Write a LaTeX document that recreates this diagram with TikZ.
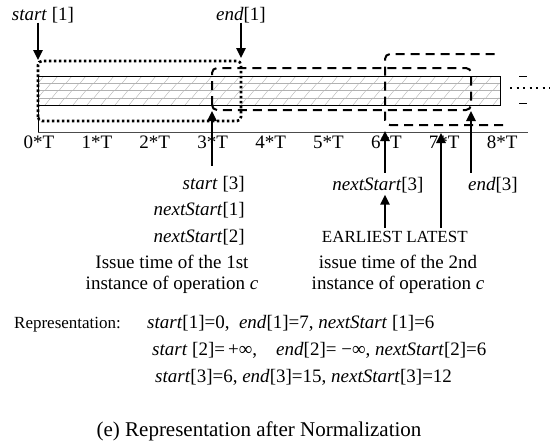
\documentclass[tikz,border=0pt]{standalone}
\usepackage{fontspec}
\setmainfont{Liberation Serif}
\usetikzlibrary{arrows.meta}
\begin{document}
\begin{tikzpicture}[x=1pt,y=-1pt,
 lbl/.style={font=\fontsize{19}{22}\selectfont,inner sep=0pt,anchor=base},
 lbltxt/.style={font=\fontsize{17}{20}\selectfont,inner sep=0pt,anchor=base},
 arr/.style={line width=2.4pt,-{Triangle[length=10pt,width=9pt]}},
 dotbox/.style={line width=2.6pt,dash pattern=on 2.6pt off 2.4pt,rounded corners=4pt},
 dashbox/.style={line width=2pt,dash pattern=on 9pt off 6pt,rounded corners=5pt}]
 \useasboundingbox (0,0) rectangle (550,447);
 % bar with brick hatch
 \begin{scope}
  \clip (38,76) rectangle (500,105);
  \foreach \r in {0,1,2,3}{
   \draw[gray!60] (38,{76+7.25*\r}) -- (500,{76+7.25*\r});
   \foreach \x in {0,14,...,470}{\draw[gray!60] ({38+\x+7*mod(\r,2)},{76+7.25*(\r+1)}) -- ++(6,-7.25);}
  }
 \end{scope}
 \draw[line width=0.9pt] (38,76) rectangle (500,105);
 \draw[line width=0.9pt] (38,76) -- (38,132);
 \draw[gray!60!black,line width=1pt] (38,132) -- (528,132);
 \foreach \k in {0,...,8}{\node[lbl] (t\k) at ({39+57.9*\k},148) {\k*T};}
 % instance boxes
 \draw[dotbox] (38,121) -- (38,61) -- (241,61) -- (241,121) -- cycle;
 \draw[dashbox] (212,110) -- (212,68) -- (471,68) -- (471,110) -- cycle;
 \draw[dashbox] (503,125) -- (385,125) -- (385,54) -- (500,54);
 % continuation marks
 \draw[line width=0.8pt] (519,76) -- (527,76) (519,103) -- (527,103);
 \draw[line width=2pt,dash pattern=on 2pt off 4.5pt] (510,88) -- (550,88);
 % top labels
 \coordinate (s1tip) at (38,60); \coordinate (e1tip) at (241,58);
 \node[lbl] (s1) at (43,20) {\textit{start} [1]};
 \node[lbl] (e1) at (241,20) {\textit{end}[1]};
 \draw[arr] (s1.south -| s1tip) -- (s1tip);
 \draw[arr] (e1.south -| e1tip) -- (e1tip);
 % bottom labels
 \coordinate (st3tip) at (212,111); \coordinate (ns3tip) at (385,131);
 \coordinate (latetip) at (441,133); \coordinate (e3tip) at (471,111);
 \node[lbl,anchor=base east] (st3) at (245,189) {\textit{start} [3]};
 \node[lbl,anchor=base east] (ns1) at (245,215) {\textit{nextStart}[1]};
 \node[lbl,anchor=base east] (ns2) at (245,242) {\textit{nextStart}[2]};
 \node[lbl] (ns3) at (378,190) {\textit{nextStart}[3]};
 \node[lbl] (e3) at (493,190) {\textit{end}[3]};
 \node[lbltxt] (earl) at (362,242) {EARLIEST};
 \node[lbltxt] (late) at (437,242) {LATEST};
 \draw[arr] ([yshift=10pt]st3.north -| st3tip) -- (st3tip);
 \draw[arr] ([yshift=4pt]ns3.north -| ns3tip) -- (ns3tip);
 \draw[arr] ([yshift=3pt]earl.north -| ns3tip) -- ([yshift=-2pt]ns3.south -| ns3tip);
 \draw[arr] ([yshift=3pt]late.north -| latetip) -- (latetip);
 \draw[arr] ([yshift=4pt]e3.north -| e3tip) -- (e3tip);
 \node[lbl] (iss1) at (172,268) {Issue time of the 1st};
 \node[lbl] (ins1) at (172,289) {instance of operation \textit{c}};
 \node[lbl] (iss2) at (398,268) {issue time of the 2nd};
 \node[lbl] (ins2) at (398,289) {instance of operation \textit{c}};
 % representation
 \node[lbltxt,anchor=base west] (rep) at (14,328) {Representation:};
 \node[lbl,anchor=base west] (r1) at (147,328) {\textit{start}[1]=0,\ \ \textit{end}[1]=7, \textit{nextStart} [1]=6};
 \node[lbl,anchor=base west] (r2) at (152,355) {\textit{start} [2]=\,+∞,\quad\textit{end}[2]=\ −∞,\ \textit{nextStart}[2]=6};
 \node[lbl,anchor=base west] (r3) at (155,382) {\textit{start}[3]=6, \textit{end}[3]=15, \textit{nextStart}[3]=12};
 \node[lbl,font=\fontsize{21}{24}\selectfont] (cap) at (259,436) {(e) Representation after Normalization};
\end{tikzpicture}
\end{document}
